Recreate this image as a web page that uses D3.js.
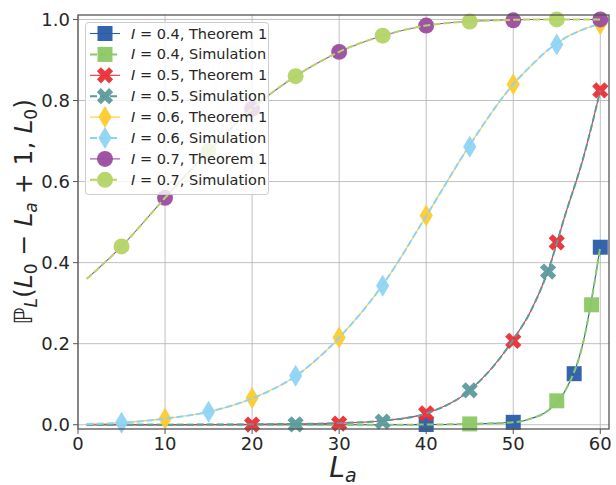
<!DOCTYPE html>
<html>
<head>
<meta charset="utf-8">
<script src="https://cdn.jsdelivr.net/npm/d3@7"></script>
<style>
body { margin: 0; background: #fff; }
text { font-family: "DejaVu Sans", sans-serif; }
</style>
</head>
<body>
<script>
var w = 616;
var h = 485;

// axes box in pixels (not "top": that name is taken by window.top)
var axLeft = 78, axRight = 609, axTop = 15, axBottom = 429;

// curves (same grid for every I)
var laGrid = [1, 5, 10, 15, 20, 25, 30, 35, 40, 45, 50, 52, 54, 56, 58, 60];
var curve04 = [0, 0, 0, 0, 0, 0, 0, 0, 0.0005, 0.002, 0.006, 0.015, 0.035, 0.085, 0.2, 0.44];
var curve05 = [0, 0, 0, 0.0005, 0.001, 0.002, 0.004, 0.01, 0.028, 0.085, 0.21, 0.28, 0.38, 0.52, 0.655, 0.825];
var curve06 = [0.002, 0.005, 0.015, 0.032, 0.065, 0.12, 0.215, 0.345, 0.515, 0.69, 0.84, 0.885, 0.925, 0.955, 0.975, 0.99];
var curve07 = [0.36, 0.44, 0.56, 0.675, 0.78, 0.86, 0.92, 0.96, 0.985, 0.995, 0.999, 1, 1, 1, 1, 1];

// marker points
var th04L = [40, 50, 57, 60], th04P = [0.0005, 0.006, 0.126, 0.438];
var sim04L = [45, 55, 59], sim04P = [0.002, 0.059, 0.296];
var th05L = [20, 30, 40, 50, 55, 60], th05P = [0.0005, 0.003, 0.028, 0.207, 0.45, 0.825];
var sim05L = [25, 35, 45, 54], sim05P = [0.001, 0.008, 0.085, 0.378];
var th06L = [10, 20, 30, 40, 50, 60], th06P = [0.015, 0.066, 0.215, 0.516, 0.84, 0.988];
var sim06L = [5, 15, 25, 35, 45, 55], sim06P = [0.005, 0.032, 0.121, 0.343, 0.686, 0.938];
var th07L = [10, 20, 30, 40, 50, 60], th07P = [0.56, 0.78, 0.92, 0.985, 0.998, 1.0];
var sim07L = [5, 15, 25, 35, 45, 55], sim07P = [0.44, 0.675, 0.86, 0.96, 0.995, 1.0];

var xTicks = [0, 10, 20, 30, 40, 50, 60];
var yTicks = [0, 0.2, 0.4, 0.6, 0.8, 1.0];

var series = [
	{I: "0.4", kind: "Theorem 1", curve: curve04, L: th04L, P: th04P, color: "#2a5caa", marker: "square", dashed: false},
	{I: "0.4", kind: "Simulation", curve: curve04, L: sim04L, P: sim04P, color: "#8cc865", marker: "square", dashed: true},
	{I: "0.5", kind: "Theorem 1", curve: curve05, L: th05L, P: th05P, color: "#ec2d35", marker: "x", dashed: false},
	{I: "0.5", kind: "Simulation", curve: curve05, L: sim05L, P: sim05P, color: "#5c9a9c", marker: "x", dashed: true},
	{I: "0.6", kind: "Theorem 1", curve: curve06, L: th06L, P: th06P, color: "#fdcb2f", marker: "diamond", dashed: false},
	{I: "0.6", kind: "Simulation", curve: curve06, L: sim06L, P: sim06P, color: "#8ed4f2", marker: "diamond", dashed: true},
	{I: "0.7", kind: "Theorem 1", curve: curve07, L: th07L, P: th07P, color: "#9a4c9f", marker: "circle", dashed: false},
	{I: "0.7", kind: "Simulation", curve: curve07, L: sim07L, P: sim07P, color: "#b4d466", marker: "circle", dashed: true}
];

var x = d3.scaleLinear().domain([0, 61]).range([axLeft, axRight]);
var y = d3.scaleLinear().domain([-0.0105, 1.011]).range([axBottom, axTop]);

var svg = d3.select("body")
.append("svg")
.attr("width", w)
.attr("height", h);

// grid
svg.append("g")
.selectAll("line")
.data(xTicks)
.enter()
.append("line")
.attr("x1", function(d){ return x(d); })
.attr("x2", function(d){ return x(d); })
.attr("y1", axTop)
.attr("y2", axBottom)
.attr("stroke", "#b0b0b0")
.attr("stroke-width", 0.8);

svg.append("g")
.selectAll("line")
.data(yTicks)
.enter()
.append("line")
.attr("x1", axLeft)
.attr("x2", axRight)
.attr("y1", function(d){ return y(d); })
.attr("y2", function(d){ return y(d); })
.attr("stroke", "#b0b0b0")
.attr("stroke-width", 0.8);

// markers
function markerPath(type) {
	if (type == "square") return d3.symbol().type(d3.symbolSquare).size(225)();
	if (type == "circle") return d3.symbol().type(d3.symbolCircle).size(200)();
	if (type == "x") return d3.symbol().type(d3.symbolCross).size(165)();
	// thin diamond
	return "M0,-11L6.6,0L0,11L-6.6,0Z";
}

var line = d3.line()
.x(function(d){ return x(d[0]); })
.y(function(d){ return y(d[1]); })
.curve(d3.curveMonotoneX);

var plot = svg.append("g");

series.forEach(function(s) {
	var pts = laGrid.map(function(l, i){ return [l, s.curve[i]]; });
	plot.append("path")
	.attr("d", line(pts))
	.attr("fill", "none")
	.attr("stroke", s.color)
	.attr("stroke-width", s.dashed ? 2 : 1.1)
	.attr("stroke-dasharray", s.dashed ? "7,3" : null);

	plot.selectAll(null)
	.data(s.L.map(function(l, i){ return [l, s.P[i]]; }))
	.enter()
	.append("path")
	.attr("d", markerPath(s.marker))
	.attr("transform", function(d){
		return "translate(" + x(d[0]) + "," + y(d[1]) + ")" + (s.marker == "x" ? " rotate(45)" : "");
	})
	.attr("fill", s.color)
	.attr("opacity", 0.95);
});

// spines
svg.append("rect")
.attr("x", axLeft)
.attr("y", axTop)
.attr("width", axRight - axLeft)
.attr("height", axBottom - axTop)
.attr("fill", "none")
.attr("stroke", "#555")
.attr("stroke-width", 1.3);

// ticks
svg.append("g")
.selectAll("line")
.data(xTicks)
.enter()
.append("line")
.attr("x1", function(d){ return x(d); })
.attr("x2", function(d){ return x(d); })
.attr("y1", axBottom)
.attr("y2", axBottom + 5)
.attr("stroke", "#555");

svg.append("g")
.selectAll("text")
.data(xTicks)
.enter()
.append("text")
.text(function(d){ return d; })
.attr("x", function(d){ return x(d); })
.attr("y", 450)
.attr("text-anchor", "middle")
.attr("font-size", "18px")
.attr("fill", "#262626");

svg.append("g")
.selectAll("line")
.data(yTicks)
.enter()
.append("line")
.attr("x1", axLeft - 5)
.attr("x2", axLeft)
.attr("y1", function(d){ return y(d); })
.attr("y2", function(d){ return y(d); })
.attr("stroke", "#555");

svg.append("g")
.selectAll("text")
.data(yTicks)
.enter()
.append("text")
.text(function(d){ return d.toFixed(1); })
.attr("x", axLeft - 8)
.attr("y", function(d){ return y(d) + 6.5; })
.attr("text-anchor", "end")
.attr("font-size", "18px")
.attr("fill", "#262626");

// x label
var xl = svg.append("text")
.attr("x", 343)
.attr("y", 477)
.attr("text-anchor", "middle")
.attr("font-size", "28px")
.attr("fill", "#262626");
xl.append("tspan").attr("font-style", "italic").text("L");
xl.append("tspan").attr("font-style", "italic").attr("font-size", "19px").attr("dy", 5).text("a");

// y label
var yl = svg.append("text")
.attr("transform", "translate(32,212) rotate(-90)")
.attr("text-anchor", "middle")
.attr("font-size", "25px")
.attr("fill", "#262626");
var parts = [
	["\u2119", false, false], ["L", true, true], ["(", false, false], ["L", true, false], ["0", false, true],
	[" \u2212 ", false, false], ["L", true, false], ["a", true, true], [" + 1, ", false, false],
	["L", true, false], ["0", false, true], [")", false, false]
];
var shifted = false;
parts.forEach(function(p) {
	var t = yl.append("tspan").text(p[0]);
	if (p[1]) t.attr("font-style", "italic");
	if (p[2]) {
		t.attr("font-size", "17px");
		if (!shifted) t.attr("dy", 5);
		shifted = true;
	} else if (shifted) {
		t.attr("dy", -5);
		shifted = false;
	}
});

// legend
var lg = svg.append("g");
lg.append("rect")
.attr("x", 85.5)
.attr("y", 22.5)
.attr("width", 183)
.attr("height", 172)
.attr("rx", 3)
.attr("fill", "#fff")
.attr("fill-opacity", 0.8)
.attr("stroke", "#ccc")
.attr("stroke-width", 1);

var rows = lg.selectAll("g.row")
.data(series)
.enter()
.append("g")
.attr("class", "row")
.attr("transform", function(d, i){ return "translate(0," + (33.5 + i * 20.9) + ")"; });

rows.append("line")
.attr("x1", 90)
.attr("x2", 120)
.attr("stroke", function(d){ return d.color; })
.attr("stroke-width", function(d){ return d.dashed ? 2 : 1.1; })
.attr("stroke-dasharray", function(d){ return d.dashed ? "7,3" : null; });

rows.append("path")
.attr("d", function(d){ return markerPath(d.marker); })
.attr("transform", function(d){ return "translate(105,0)" + (d.marker == "x" ? " rotate(45)" : ""); })
.attr("fill", function(d){ return d.color; })
.attr("opacity", 0.95);

var lt = rows.append("text")
.attr("x", 131)
.attr("y", 5)
.attr("font-size", "14.5px")
.attr("fill", "#262626");
lt.append("tspan").attr("font-style", "italic").text("I");
lt.append("tspan").text(function(d){ return " = " + d.I + ", " + d.kind; });
</script>
</body>
</html>
